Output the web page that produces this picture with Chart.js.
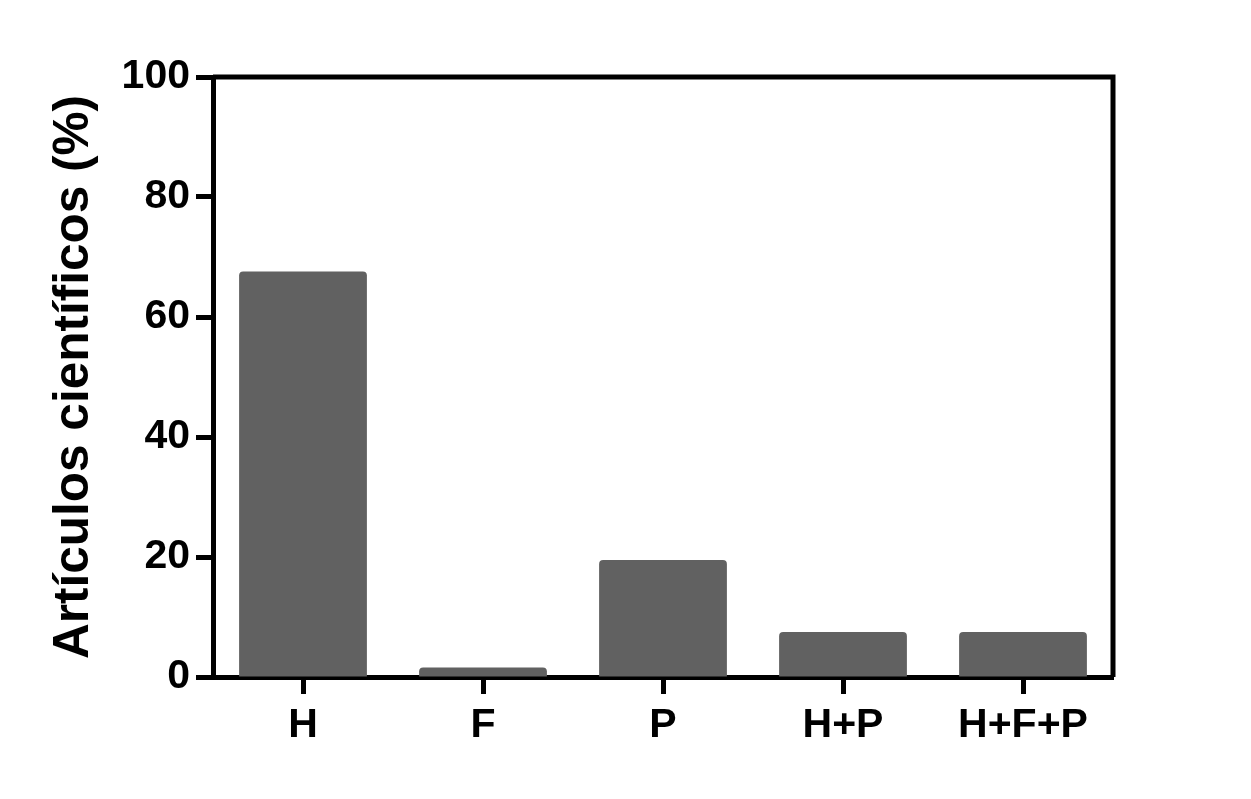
<!DOCTYPE html>
<html>
<head>
<meta charset="utf-8">
<script src="https://cdn.jsdelivr.net/npm/chart.js@4"></script>
<style>
  body { margin: 0; background: #fff; }
  #wrap { width: 1251px; height: 799px; }
</style>
</head>
<body>
<div id="wrap"><canvas id="myChart" width="1251" height="799"></canvas></div>
<script>
// datos
var categorias = ['H', 'F', 'P', 'H+P', 'H+F+P'];
var porcentajes = [67.6, 1.6, 19.5, 7.5, 7.5];
var ticksY = [0, 20, 40, 60, 80, 100];
var tituloY = 'Artículos científicos (%)';

// marco superior y derecho
var marco = {
    id: 'marco',
    afterDraw: function (chart) {
        var a = chart.chartArea;
        var ctx = chart.ctx;
        ctx.save();
        ctx.strokeStyle = '#000';
        ctx.lineWidth = 5;
        ctx.beginPath();
        ctx.moveTo(a.left, a.top);
        ctx.lineTo(a.right, a.top);
        ctx.lineTo(a.right, a.bottom);
        ctx.stroke();
        ctx.restore();
    }
};

var ctx = document.getElementById('myChart').getContext('2d');
var chart = new Chart(ctx, {
    type: 'bar',
    data: {
        labels: categorias,
        datasets: [{
            data: porcentajes,
            backgroundColor: '#616161',
            borderWidth: 0,
            borderRadius: { topLeft: 4, topRight: 4, bottomLeft: 0, bottomRight: 0 },
            borderSkipped: 'bottom',
            barPercentage: 0.71,
            categoryPercentage: 1.0
        }]
    },
    options: {
        responsive: false,
        animation: false,
        layout: { padding: { top: 77, right: 138, left: 0, bottom: 0 } },
        plugins: { legend: { display: false }, tooltip: { enabled: false } },
        scales: {
            x: {
                z: 1,
                border: { display: true, color: '#000', width: 5 },
                grid: { display: true, drawOnChartArea: false, tickLength: 17, tickWidth: 5, tickColor: '#000', offset: false },
                ticks: { color: '#000', padding: 7, font: { family: 'Liberation Sans', size: 41, weight: 'bold' } },
                afterFit: function (s) { s.height = 799 - 677; }
            },
            y: {
                z: 1,
                min: 0,
                max: 100,
                afterBuildTicks: function (s) { s.ticks = ticksY.map(function (v) { return { value: v }; }); },
                border: { display: true, color: '#000', width: 5 },
                grid: { display: true, drawOnChartArea: false, tickLength: 17, tickWidth: 5, tickColor: '#000' },
                ticks: { color: '#000', padding: 6, font: { family: 'Liberation Sans', size: 41, weight: 'bold' } },
                title: {
                    display: true,
                    text: tituloY,
                    color: '#000',
                    padding: { top: 45, bottom: 0 },
                    font: { family: 'Liberation Sans', size: 49.5, weight: 'bold' }
                },
                afterFit: function (s) { s.width = 213; }
            }
        }
    },
    plugins: [marco]
});
</script>
</body>
</html>
